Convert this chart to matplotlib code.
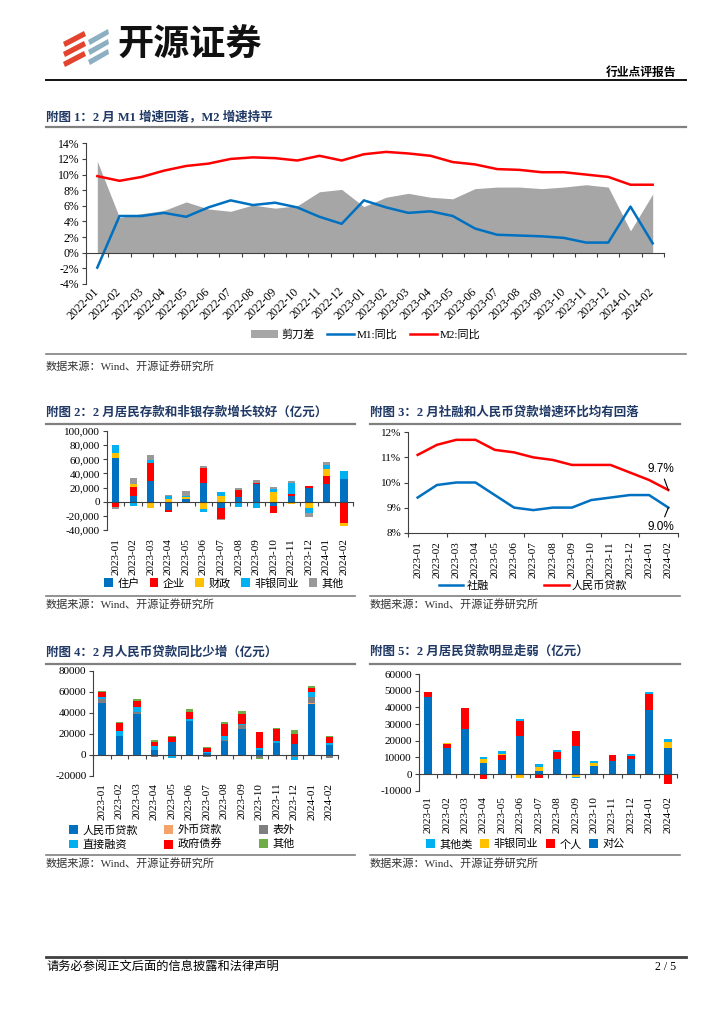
import numpy as np
import matplotlib
matplotlib.use("Agg")
import matplotlib.pyplot as plt
from matplotlib.lines import Line2D
from matplotlib.patches import Polygon
from matplotlib.ticker import FuncFormatter

plt.rcParams["font.family"] = ["Liberation Serif", "Noto Sans CJK SC"]
plt.rcParams["axes.unicode_minus"] = False

W, H = 724, 1024

# ---------- data ----------
# chart 1: M1 / M2 yoy (%)
months1 = ["2022-01", "2022-02", "2022-03", "2022-04", "2022-05", "2022-06", "2022-07",
           "2022-08", "2022-09", "2022-10", "2022-11", "2022-12", "2023-01", "2023-02",
           "2023-03", "2023-04", "2023-05", "2023-06", "2023-07", "2023-08", "2023-09",
           "2023-10", "2023-11", "2023-12", "2024-01", "2024-02"]
m1_yoy = [-1.9, 4.7, 4.7, 5.1, 4.6, 5.8, 6.7, 6.1, 6.4, 5.8, 4.6, 3.7, 6.7,
          5.8, 5.1, 5.3, 4.7, 3.1, 2.3, 2.2, 2.1, 1.9, 1.3, 1.3, 5.9, 1.2]
m2_yoy = [9.8, 9.2, 9.7, 10.5, 11.1, 11.4, 12.0, 12.2, 12.1, 11.8, 12.4, 11.8, 12.6,
          12.9, 12.7, 12.4, 11.6, 11.3, 10.7, 10.6, 10.3, 10.3, 10.0, 9.7, 8.7, 8.7]
spread = [11.7, 4.5, 5.0, 5.4, 6.5, 5.6, 5.3, 6.1, 5.7, 6.0, 7.8, 8.1, 5.9,
          7.1, 7.6, 7.1, 6.9, 8.2, 8.4, 8.4, 8.2, 8.4, 8.7, 8.4, 2.8, 7.5]

months2 = ["2023-01", "2023-02", "2023-03", "2023-04", "2023-05", "2023-06", "2023-07",
           "2023-08", "2023-09", "2023-10", "2023-11", "2023-12", "2024-01", "2024-02"]

# chart 2: deposits (100m yuan)
dep_household = [62000, 8000, 28800, -11800, 4300, 26400, -8500, 7000, 25500, -6100, 8500, 19800, 25500, 32000]
dep_corporate = [-7000, 12300, 26400, -2400, -2400, 21700, -16000, 9400, 1400, -9400, 2400, 2800, 10900, -30700]
dep_fiscal = [7000, 4700, -8500, 4200, 2000, -10800, 8500, 0, -2400, 13700, -3800, -9400, 9400, -3800]
dep_nonbank = [11000, -6000, 3800, 4300, 2400, -3800, 4700, -8000, -7000, 3800, 16000, -6100, 5700, 11800]
dep_other = [-3000, 8500, 7000, 1000, 7000, 2800, -1400, 3300, 3800, 2800, 1900, -6600, 4700, 0]

# chart 3: growth (%)
tsf_yoy = [9.4, 9.9, 10.0, 10.0, 9.5, 9.0, 8.9, 9.0, 9.0, 9.3, 9.4, 9.5, 9.5, 9.0]
loan_yoy = [11.1, 11.5, 11.7, 11.7, 11.3, 11.2, 11.0, 10.9, 10.7, 10.7, 10.7, 10.4, 10.1, 9.7]

# chart 4: TSF components (100m yuan)
tsf_rmb = [49600, 17900, 38700, 4200, 11800, 32000, 1400, 13100, 25000, 4800, 10900, 10600, 48600, 9300]
tsf_fx = [300, 0, 0, 0, 0, 0, 0, 0, -600, 0, 0, 0, 600, 0]
tsf_offbs = [3200, 0, 2200, -1900, -800, -1000, -2200, 1300, 3500, -2900, 0, -2600, 5800, -3500]
tsf_direct = [2200, 4500, 4500, 3800, -2400, 2600, 800, 3200, 1000, 1300, 1900, -2200, 5400, 1900]
tsf_govbond = [4200, 8300, 6100, 4500, 5400, 6100, 4200, 11800, 9900, 16000, 11500, 9600, 3200, 5400]
tsf_other = [1000, 1000, 1900, 1300, 1000, 2600, 1000, 1600, 2200, -1600, 1000, 3200, 1900, 1300]

# chart 5: loans (100m yuan)
ln_corp = [46400, 15800, 26800, 6600, 8400, 22600, 2000, 9200, 16600, 5000, 8000, 9000, 38400, 15400]
ln_personal = [2600, 2400, 12800, -2800, 3200, 9400, -2400, 4200, 9200, -600, 3400, 2000, 9600, -6000]
ln_nonbank = [-800, 300, 0, 2200, 600, -2200, 2000, -600, -1600, 1600, 0, 0, 0, 4000]
ln_other = [400, 300, -400, 1200, 1800, 800, 2000, 1000, -800, 1400, 0, 1000, 1400, 1600]

BLUE = "#0070C0"
RED = "#FF0000"
LBLUE = "#00B0F0"
YELLOW = "#FFC000"
GRAY = "#A6A6A6"
NAVY = "#1F3864"
TICK_FS = 8
LEG_FS = 8


def rect(l, r, t, b):
    return [l / W, 1 - b / H, (r - l) / W, (b - t) / H]


def ftext(x, y, s, **kw):
    kw.setdefault("va", "center")
    fig.text(x / W, 1 - y / H, s, **kw)


def hline(y, x0, x1, lw, color):
    fig.add_artist(Line2D([x0 / W, x1 / W], [1 - y / H, 1 - y / H],
                          transform=fig.transFigure, lw=lw, color=color))


def style_axes(ax, fs=TICK_FS):
    for s in ["top", "right"]:
        ax.spines[s].set_visible(False)
    for s in ["left", "bottom"]:
        ax.spines[s].set_color("#404040")
        ax.spines[s].set_linewidth(0.8)
    ax.tick_params(axis="y", direction="out", length=3, width=0.8,
                   color="#404040", labelsize=fs, pad=2)


def cat_axis(ax, labels, rotation, at_zero, every=1, pad=3, fs=TICK_FS):
    n = len(labels)
    x = np.arange(n)
    ax.set_xlim(-0.5, n - 0.5)
    bounds = np.arange(-0.5, n, every)
    if at_zero:
        ax.spines["bottom"].set_position(("data", 0))
        ax.set_xticks(bounds)
        ax.tick_params(axis="x", direction="out", length=3, width=0.8,
                       color="#404040", labelbottom=False)
        lab_ax = ax.secondary_xaxis("bottom")
        for s in lab_ax.spines.values():
            s.set_visible(False)
    else:
        ax.set_xticks(bounds, minor=True)
        ax.tick_params(axis="x", which="minor", direction="out", length=3,
                       width=0.8, color="#404040")
        lab_ax = ax
    lab_ax.set_xticks(x, labels)
    lab_ax.tick_params(axis="x", which="major", length=0, labelsize=fs, pad=pad)
    for t in lab_ax.get_xticklabels():
        t.set_rotation(rotation)
        if rotation == 45:
            t.set_ha("right")
            t.set_va("center")
            t.set_rotation_mode("anchor")


def stacked(ax, series, colors, labels, width=0.42):
    n = len(series[0])
    x = np.arange(n)
    pos = np.zeros(n)
    neg = np.zeros(n)
    handles = {}
    for vals, c, lab in zip(series, colors, labels):
        v = np.asarray(vals, dtype=float)
        bottom = np.where(v >= 0, pos, neg)
        handles[lab] = ax.bar(x, v, width, bottom=bottom, color=c, linewidth=0, label=lab)
        pos = pos + np.clip(v, 0, None)
        neg = neg + np.clip(v, None, 0)
    return handles


def sq_legend(handles, x, y, **kw):
    fig.legend(handles=handles, loc="upper left", bbox_to_anchor=(x / W, 1 - y / H),
               frameon=False, fontsize=LEG_FS, handlelength=0.8, handleheight=0.8,
               handletextpad=0.4, borderaxespad=0, borderpad=0, **kw)


def source(x, y, line_x0, line_x1, line_y):
    hline(line_y, line_x0, line_x1, 1.2, "#808080")
    ftext(x, y, "数据来源：Wind、开源证券研究所", fontsize=8, color="#333333")


def title(x, y, s, line_x0, line_x1, line_y):
    ftext(x, y, s, fontsize=9, fontweight="bold", color=NAVY)
    hline(line_y, line_x0, line_x1, 1.6, "#808080")


fig = plt.figure(figsize=(W / 100, H / 100), dpi=100)

# ---------- header ----------
for i in range(3):
    fig.add_artist(Polygon([(63 / W, 1 - (42 + i * 10) / H), (84 / W, 1 - (31 + i * 10) / H),
                            (86 / W, 1 - (36 + i * 10) / H), (65 / W, 1 - (47 + i * 10) / H)],
                           closed=True, transform=fig.transFigure, color="#E2442F", lw=0))
    fig.add_artist(Polygon([(88 / W, 1 - (40 + i * 10) / H), (108 / W, 1 - (29 + i * 10) / H),
                            (109 / W, 1 - (34 + i * 10) / H), (90 / W, 1 - (45 + i * 10) / H)],
                           closed=True, transform=fig.transFigure, color="#8DAFC2", lw=0))
ftext(117, 45, "开源证券", fontsize=26, fontweight="bold", color="#111111",
      family="Noto Sans CJK SC")
ftext(676, 73, "行业点评报告", fontsize=8.5, fontweight="bold", ha="right")
hline(80, 46, 686, 1.4, "#111111")

# ---------- chart 1 ----------
title(46, 117, "附图 1：2 月 M1 增速回落，M2 增速持平", 46, 686, 127)
ax1 = fig.add_axes(rect(86.2, 663.8, 143.3, 284))
style_axes(ax1, fs=8.5)
x1 = np.arange(len(months1))
h_sp = ax1.fill_between(x1, spread, 0, color=GRAY, lw=0, label="剪刀差")
h_m1, = ax1.plot(x1, m1_yoy, color=BLUE, lw=1.8, label="M1:同比")
h_m2, = ax1.plot(x1, m2_yoy, color=RED, lw=1.8, label="M2:同比")
ax1.set_ylim(-4, 14)
ax1.set_yticks(np.arange(-4, 15, 2))
ax1.yaxis.set_major_formatter(FuncFormatter(lambda v, p: f"{v:.0f}%"))
cat_axis(ax1, months1, 45, True, pad=4, fs=8.5)
fig.legend(handles=[h_sp, h_m1, h_m2], loc="center", bbox_to_anchor=(366 / W, 1 - 335 / H),
           ncol=3, frameon=False, fontsize=8, handlelength=2.4, columnspacing=1.1,
           handletextpad=0.3)
source(46, 366, 46, 686, 354)

# ---------- chart 2 ----------
title(46, 412, "附图 2：2 月居民存款和非银存款增长较好（亿元）", 46, 355, 424)
ax2 = fig.add_axes(rect(106.9, 352.8, 431, 530))
style_axes(ax2)
hs2 = stacked(ax2, [dep_household, dep_corporate, dep_fiscal, dep_nonbank, dep_other],
              [BLUE, RED, YELLOW, LBLUE, "#999999"], ["住户", "企业", "财政", "非银同业", "其他"])
ax2.set_ylim(-40000, 100000)
ax2.set_yticks(np.arange(-40000, 100001, 20000))
ax2.yaxis.set_major_formatter(FuncFormatter(lambda v, p: f"{v:,.0f}"))
cat_axis(ax2, months2, 90, True, pad=6)
sq_legend(list(hs2.values()), 104, 578, ncol=5, columnspacing=0.9)
source(46, 604, 46, 355, 596)

# ---------- chart 3 ----------
title(370, 412, "附图 3：2 月社融和人民币贷款增速环比均有回落", 370, 680, 424)
ax3 = fig.add_axes(rect(408, 678, 432.3, 532.7))
style_axes(ax3)
x3 = np.arange(len(months2))
h_tsf, = ax3.plot(x3, tsf_yoy, color=BLUE, lw=1.8, label="社融")
h_loan, = ax3.plot(x3, loan_yoy, color=RED, lw=1.8, label="人民币贷款")
ax3.set_ylim(8, 12)
ax3.set_yticks(np.arange(8, 12.5, 1))
ax3.yaxis.set_major_formatter(FuncFormatter(lambda v, p: f"{v:.0f}%"))
cat_axis(ax3, months2, 90, False, every=2, pad=6)
ax3.annotate(f"{loan_yoy[-1]:.1f}%", xy=(x3[-1], loan_yoy[-1]), xytext=(12.6, 10.54),
             ha="center", va="center", fontsize=8.5, family="Liberation Sans",
             arrowprops=dict(arrowstyle="-", lw=0.8, color="black", shrinkA=1, shrinkB=0))
ax3.annotate(f"{tsf_yoy[-1]:.1f}%", xy=(x3[-1], tsf_yoy[-1]), xytext=(12.6, 8.23),
             ha="center", va="center", fontsize=8.5, family="Liberation Sans",
             arrowprops=dict(arrowstyle="-", lw=0.8, color="black", shrinkA=1, shrinkB=0),
             annotation_clip=False)
fig.legend(handles=[h_tsf, h_loan], loc="center", bbox_to_anchor=(533 / W, 1 - 586 / H),
           ncol=2, frameon=False, fontsize=LEG_FS, handlelength=2.2, columnspacing=5.0,
           handletextpad=0.3)
source(370, 604, 370, 680, 596)

# ---------- chart 4 ----------
title(46, 652, "附图 4：2 月人民币贷款同比少增（亿元）", 46, 355, 664)
ax4 = fig.add_axes(rect(93.3, 338, 671, 775.7))
style_axes(ax4)
labs4 = ["人民币贷款", "外币贷款", "表外", "直接融资", "政府债券", "其他"]
hs4 = stacked(ax4, [tsf_rmb, tsf_fx, tsf_offbs, tsf_direct, tsf_govbond, tsf_other],
              [BLUE, "#F4A46A", "#7F7F7F", LBLUE, RED, "#70AD47"], labs4, width=0.42)
ax4.set_ylim(-20000, 80000)
ax4.set_yticks(np.arange(-20000, 80001, 20000))
ax4.yaxis.set_major_formatter(FuncFormatter(lambda v, p: f"{v:.0f}"))
cat_axis(ax4, months2, 90, True, pad=5)
legend_cols4 = [["人民币贷款", "直接融资"], ["外币贷款", "政府债券"], ["表外", "其他"]]
for col, xpos in zip(legend_cols4, [69, 164, 259]):
    sq_legend([hs4[k] for k in col], xpos, 825, ncol=1, labelspacing=0.35)
source(46, 863, 46, 355, 855)

# ---------- chart 5 ----------
title(370, 652, "附图 5：2 月居民贷款明显走弱（亿元）", 370, 680, 664)
ax5 = fig.add_axes(rect(419, 677, 674, 790.7))
style_axes(ax5)
hs5 = stacked(ax5, [ln_corp, ln_personal, ln_nonbank, ln_other],
              [BLUE, RED, YELLOW, LBLUE], ["对公", "个人", "非银同业", "其他类"], width=0.42)
ax5.set_ylim(-10000, 60000)
ax5.set_yticks(np.arange(-10000, 60001, 10000))
ax5.yaxis.set_major_formatter(FuncFormatter(lambda v, p: f"{v:.0f}"))
cat_axis(ax5, months2, 90, True, pad=4)
order5 = ["其他类", "非银同业", "个人", "对公"]
sq_legend([hs5[k] for k in order5], 426, 839, ncol=4, columnspacing=0.7)
source(370, 863, 370, 680, 855)

# ---------- footer ----------
hline(957, 46, 686, 2.0, "#404040")
ftext(46, 967, "请务必参阅正文后面的信息披露和法律声明", fontsize=8.8)
ftext(676, 967, "2 / 5", fontsize=8.5, ha="right")

fig.savefig("out.png", dpi=100)
